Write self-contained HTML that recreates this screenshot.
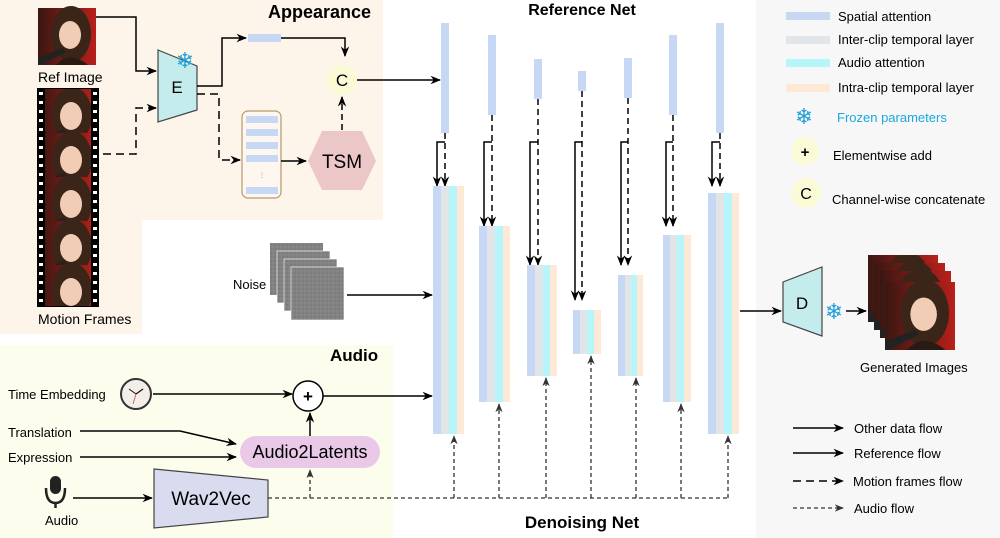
<!DOCTYPE html>
<html><head><meta charset="utf-8"><style>
html,body{margin:0;padding:0;background:#fff}
svg{display:block;font-family:"Liberation Sans",Arial,sans-serif}
</style></head><body>
<svg width="1000" height="538" viewBox="0 0 1000 538" xmlns="http://www.w3.org/2000/svg">
<defs>
<marker id="ah" viewBox="0 0 10 10" refX="9" refY="5" markerWidth="7" markerHeight="7" orient="auto-start-reverse"><path d="M0,1 L10,5 L0,9 L3,5 z" fill="#000"/></marker>
<marker id="ag" viewBox="0 0 10 10" refX="9" refY="5" markerWidth="7" markerHeight="7" orient="auto"><path d="M0,1 L10,5 L0,9 L3,5 z" fill="#333"/></marker>
<linearGradient id="bgred" x1="0" y1="0" x2="1" y2="0"><stop offset="0" stop-color="#3a1712"/><stop offset="1" stop-color="#b8201a"/></linearGradient>
<g id="face">
<rect x="0" y="0" width="58" height="57" fill="url(#bgred)"/>
<ellipse cx="33" cy="26" rx="20" ry="28" fill="#3b2418"/>
<ellipse cx="32" cy="27" rx="11" ry="14" fill="#f2cdb5"/>
<path d="M0,50 L25,40 L28,44 L3,57 L0,57z" fill="#222"/>
<path d="M18,57 Q32,42 50,57z" fill="#2a1a14"/>
</g>
<pattern id="noise" width="4" height="4" patternUnits="userSpaceOnUse"><rect width="4" height="4" fill="#828282"/><rect x="1" y="2" width="1" height="1" fill="#8e8e8e"/><rect x="3" y="0" width="1" height="1" fill="#767676"/><rect x="0" y="3" width="1" height="1" fill="#8a8a8a"/><rect x="2" y="1" width="1" height="1" fill="#787878"/></pattern>
</defs>

<!-- backgrounds -->
<rect x="0" y="0" width="383" height="220" fill="#fdf4ea"/>
<rect x="0" y="220" width="142" height="114" fill="#fdf4ea"/>
<rect x="0" y="345" width="393" height="193" fill="#fdfdee"/>
<rect x="756" y="0" width="244" height="538" fill="#f7f7f7"/>

<!-- titles -->
<text x="268" y="18" font-size="18" font-weight="bold">Appearance</text>
<text x="582" y="15" font-size="16" font-weight="bold" text-anchor="middle">Reference Net</text>
<text x="330" y="361" font-size="17" font-weight="bold">Audio</text>
<text x="582" y="528" font-size="17" font-weight="bold" text-anchor="middle">Denoising Net</text>

<!-- ref image -->
<use href="#face" x="38" y="8"/>
<text x="38" y="82" font-size="14">Ref Image</text>
<!-- film strip -->
<rect x="37" y="88" width="62" height="219" fill="#000"/>
<svg x="45" y="89" width="46" height="217" viewBox="0 0 46 217" overflow="hidden">
<use href="#face" x="-6" y="0"/><use href="#face" x="-6" y="44"/><use href="#face" x="-6" y="88"/><use href="#face" x="-6" y="132"/><use href="#face" x="-6" y="176"/>
</svg>
<g fill="#fff">
<rect x="39" y="92" width="4" height="3"/><rect x="39" y="101" width="4" height="3"/><rect x="39" y="110" width="4" height="3"/><rect x="39" y="119" width="4" height="3"/><rect x="39" y="128" width="4" height="3"/><rect x="39" y="137" width="4" height="3"/><rect x="39" y="146" width="4" height="3"/><rect x="39" y="155" width="4" height="3"/><rect x="39" y="164" width="4" height="3"/><rect x="39" y="173" width="4" height="3"/><rect x="39" y="182" width="4" height="3"/><rect x="39" y="191" width="4" height="3"/><rect x="39" y="200" width="4" height="3"/><rect x="39" y="209" width="4" height="3"/><rect x="39" y="218" width="4" height="3"/><rect x="39" y="227" width="4" height="3"/><rect x="39" y="236" width="4" height="3"/><rect x="39" y="245" width="4" height="3"/><rect x="39" y="254" width="4" height="3"/><rect x="39" y="263" width="4" height="3"/><rect x="39" y="272" width="4" height="3"/><rect x="39" y="281" width="4" height="3"/><rect x="39" y="290" width="4" height="3"/><rect x="39" y="299" width="4" height="3"/>
<rect x="93" y="92" width="4" height="3"/><rect x="93" y="101" width="4" height="3"/><rect x="93" y="110" width="4" height="3"/><rect x="93" y="119" width="4" height="3"/><rect x="93" y="128" width="4" height="3"/><rect x="93" y="137" width="4" height="3"/><rect x="93" y="146" width="4" height="3"/><rect x="93" y="155" width="4" height="3"/><rect x="93" y="164" width="4" height="3"/><rect x="93" y="173" width="4" height="3"/><rect x="93" y="182" width="4" height="3"/><rect x="93" y="191" width="4" height="3"/><rect x="93" y="200" width="4" height="3"/><rect x="93" y="209" width="4" height="3"/><rect x="93" y="218" width="4" height="3"/><rect x="93" y="227" width="4" height="3"/><rect x="93" y="236" width="4" height="3"/><rect x="93" y="245" width="4" height="3"/><rect x="93" y="254" width="4" height="3"/><rect x="93" y="263" width="4" height="3"/><rect x="93" y="272" width="4" height="3"/><rect x="93" y="281" width="4" height="3"/><rect x="93" y="290" width="4" height="3"/><rect x="93" y="299" width="4" height="3"/>
</g>
<text x="38" y="324" font-size="14">Motion Frames</text>

<!-- E encoder -->
<polygon points="158,50 197,66 197,110 158,122" fill="#c5ecec" stroke="#444" stroke-width="1.2"/>
<text x="177" y="93" font-size="17" text-anchor="middle">E</text>
<text x="185" y="68" font-size="22" fill="#1e9fd8" text-anchor="middle" font-family="DejaVu Sans, sans-serif">❄</text>
<polyline points="96,17 136,17 136,71 156,71" fill="none" stroke="#000" stroke-width="1.5" marker-end="url(#ah)"/>
<polyline points="103,154 136,154 136,108 156,108" fill="none" stroke="#000" stroke-width="1.5" stroke-dasharray="8,5" marker-end="url(#ah)"/>
<polyline points="197,86 222,86 222,38 246,38" fill="none" stroke="#000" stroke-width="1.5" marker-end="url(#ah)"/>
<rect x="248" y="34" width="33" height="8" fill="#c7d8f5"/>
<polyline points="281,38 345,38 345,56" fill="none" stroke="#000" stroke-width="1.5" marker-end="url(#ah)"/>
<circle cx="342" cy="80" r="15" fill="#fafad6"/>
<text x="342" y="86" font-size="17" text-anchor="middle">C</text>
<polyline points="197,94 219,94 219,160 240,160" fill="none" stroke="#000" stroke-width="1.5" stroke-dasharray="8,5" marker-end="url(#ah)"/>
<rect x="242" y="111" width="39" height="87" rx="6" fill="#fdf7ef" stroke="#b49a6e" stroke-width="1.2"/>
<g fill="#c7d8f5"><rect x="246" y="116" width="32" height="7"/><rect x="246" y="129" width="32" height="7"/><rect x="246" y="142" width="32" height="7"/><rect x="246" y="155" width="32" height="7"/><rect x="246" y="187" width="32" height="7"/></g>
<text x="262" y="177" font-size="6" text-anchor="middle" fill="#888">⋮</text>
<line x1="281" y1="161" x2="306" y2="161" stroke="#000" stroke-width="1.5" marker-end="url(#ah)"/>
<polygon points="308,161 322,131 362,131 376,161 362,190 322,190" fill="#ecc7c8"/>
<text x="342" y="168" font-size="19" text-anchor="middle">TSM</text>
<line x1="342" y1="130" x2="342" y2="97" stroke="#000" stroke-width="1.5" stroke-dasharray="6,4" marker-end="url(#ah)"/>
<line x1="357" y1="80" x2="440" y2="80" stroke="#000" stroke-width="1.5" marker-end="url(#ah)"/>

<!-- reference net bars -->
<g fill="#c7d8f5">
<rect x="441" y="23" width="8" height="110"/><rect x="488" y="35" width="8" height="80"/><rect x="534" y="59" width="8" height="40"/><rect x="578" y="71" width="8" height="20"/><rect x="624" y="58" width="8" height="40"/><rect x="669" y="35" width="8" height="80"/><rect x="716" y="23" width="8" height="110"/>
</g>
<g fill="none" stroke="#000" stroke-width="1.5">
<line x1="445" y1="133" x2="445" y2="186" stroke-dasharray="6,4" marker-end="url(#ah)"/><polyline points="445,142 437,142 437,186" marker-end="url(#ah)"/>
<line x1="492" y1="115" x2="492" y2="226" stroke-dasharray="6,4" marker-end="url(#ah)"/><polyline points="492,142 484,142 484,226" marker-end="url(#ah)"/>
<line x1="538" y1="99" x2="538" y2="265" stroke-dasharray="6,4" marker-end="url(#ah)"/><polyline points="538,142 530,142 530,265" marker-end="url(#ah)"/>
<line x1="582" y1="91" x2="582" y2="300" stroke-dasharray="6,4" marker-end="url(#ah)"/><polyline points="582,142 575,142 575,300" marker-end="url(#ah)"/>
<line x1="628" y1="98" x2="628" y2="265" stroke-dasharray="6,4" marker-end="url(#ah)"/><polyline points="628,142 621,142 621,265" marker-end="url(#ah)"/>
<line x1="673" y1="115" x2="673" y2="226" stroke-dasharray="6,4" marker-end="url(#ah)"/><polyline points="673,142 666,142 666,226" marker-end="url(#ah)"/>
<line x1="720" y1="133" x2="720" y2="186" stroke-dasharray="6,4" marker-end="url(#ah)"/><polyline points="720,142 712,142 712,186" marker-end="url(#ah)"/>
</g>
<!-- denoise blocks -->
<g>
<rect x="433" y="186" width="8" height="248" fill="#c7d8f5"/><rect x="441" y="186" width="8" height="248" fill="#e1e5e8"/><rect x="449" y="186" width="8" height="248" fill="#b6f6fa"/><rect x="457" y="186" width="7" height="248" fill="#fde9d6"/>
<rect x="479" y="226" width="8" height="176" fill="#c7d8f5"/><rect x="487" y="226" width="8" height="176" fill="#e1e5e8"/><rect x="495" y="226" width="8" height="176" fill="#b6f6fa"/><rect x="503" y="226" width="7" height="176" fill="#fde9d6"/>
<rect x="527" y="265" width="8" height="111" fill="#c7d8f5"/><rect x="535" y="265" width="8" height="111" fill="#e1e5e8"/><rect x="543" y="265" width="7" height="111" fill="#b6f6fa"/><rect x="550" y="265" width="7" height="111" fill="#fde9d6"/>
<rect x="573" y="310" width="7" height="44" fill="#c7d8f5"/><rect x="580" y="310" width="7" height="44" fill="#e1e5e8"/><rect x="587" y="310" width="7" height="44" fill="#b6f6fa"/><rect x="594" y="310" width="7" height="44" fill="#fde9d6"/>
<rect x="618" y="275" width="7" height="101" fill="#c7d8f5"/><rect x="625" y="275" width="6" height="101" fill="#e1e5e8"/><rect x="631" y="275" width="6" height="101" fill="#b6f6fa"/><rect x="637" y="275" width="6" height="101" fill="#fde9d6"/>
<rect x="663" y="235" width="7" height="167" fill="#c7d8f5"/><rect x="670" y="235" width="7" height="167" fill="#e1e5e8"/><rect x="677" y="235" width="7" height="167" fill="#b6f6fa"/><rect x="684" y="235" width="7" height="167" fill="#fde9d6"/>
<rect x="708" y="193" width="8" height="241" fill="#c7d8f5"/><rect x="716" y="193" width="8" height="241" fill="#e1e5e8"/><rect x="724" y="193" width="8" height="241" fill="#b6f6fa"/><rect x="732" y="193" width="7" height="241" fill="#fde9d6"/>
</g>

<!-- noise -->
<rect x="270" y="243" width="53" height="52" fill="url(#noise)"/>
<rect x="277" y="251" width="53" height="52" fill="url(#noise)" stroke="#fff" stroke-width="0.6"/>
<rect x="284" y="259" width="53" height="52" fill="url(#noise)" stroke="#fff" stroke-width="0.6"/>
<rect x="291" y="267" width="53" height="53" fill="url(#noise)" stroke="#fff" stroke-width="0.6"/>
<text x="233" y="289" font-size="13">Noise</text>
<line x1="347" y1="295" x2="432" y2="295" stroke="#000" stroke-width="1.5" marker-end="url(#ah)"/>

<!-- audio section -->
<text x="8" y="399" font-size="13">Time Embedding</text>
<circle cx="136" cy="394" r="15" fill="#f3eeea" stroke="#333" stroke-width="2"/>
<line x1="136" y1="394" x2="143" y2="389" stroke="#111" stroke-width="1.2"/><line x1="136" y1="394" x2="129" y2="389" stroke="#111" stroke-width="1"/><line x1="136" y1="394" x2="133" y2="404" stroke="#c44" stroke-width="0.8"/>
<line x1="153" y1="394" x2="292" y2="394" stroke="#000" stroke-width="1.5" marker-end="url(#ah)"/>
<circle cx="308" cy="396" r="15" fill="#fff" stroke="#000" stroke-width="1.5"/>
<text x="308" y="402" font-size="17" font-weight="bold" text-anchor="middle">+</text>
<polyline points="323,396 432,396" fill="none" stroke="#000" stroke-width="1.5" marker-end="url(#ah)"/>
<text x="8" y="437" font-size="13">Translation</text>
<polyline points="80,431 180,431 236,444" fill="none" stroke="#000" stroke-width="1.5" marker-end="url(#ah)"/>
<text x="8" y="462" font-size="13">Expression</text>
<line x1="80" y1="457" x2="236" y2="457" stroke="#000" stroke-width="1.5" marker-end="url(#ah)"/>
<rect x="240" y="436" width="140" height="32" rx="16" fill="#e9c8e8"/>
<text x="310" y="458" font-size="18" text-anchor="middle">Audio2Latents</text>
<line x1="310" y1="436" x2="310" y2="413" stroke="#000" stroke-width="1.5" marker-end="url(#ah)"/>
<rect x="50" y="476" width="11" height="18" rx="5.5" fill="#222"/>
<path d="M46,488 Q46,503 55.5,503 Q65,503 65,488" fill="none" stroke="#222" stroke-width="2.5"/>
<line x1="55.5" y1="503" x2="55.5" y2="508" stroke="#222" stroke-width="2.5"/>
<text x="45" y="525" font-size="13">Audio</text>
<line x1="73" y1="498" x2="152" y2="498" stroke="#000" stroke-width="1.5" marker-end="url(#ah)"/>
<polygon points="154,469 268,480 268,517 154,528" fill="#d8dcee" stroke="#444" stroke-width="1.2"/>
<text x="211" y="505" font-size="19" text-anchor="middle">Wav2Vec</text>
<g fill="none" stroke="#333" stroke-width="1.3" stroke-dasharray="4,3">
<polyline points="268,498 728,498"/>
<line x1="310" y1="498" x2="310" y2="470" marker-end="url(#ag)"/>
<line x1="454" y1="498" x2="454" y2="436" marker-end="url(#ag)"/>
<line x1="499" y1="498" x2="499" y2="404" marker-end="url(#ag)"/>
<line x1="546" y1="498" x2="546" y2="378" marker-end="url(#ag)"/>
<line x1="591" y1="498" x2="591" y2="356" marker-end="url(#ag)"/>
<line x1="636" y1="498" x2="636" y2="378" marker-end="url(#ag)"/>
<line x1="681" y1="498" x2="681" y2="404" marker-end="url(#ag)"/>
<line x1="728" y1="498" x2="728" y2="436" marker-end="url(#ag)"/>
</g>

<!-- output -->
<line x1="740" y1="311" x2="781" y2="311" stroke="#000" stroke-width="1.5" marker-end="url(#ah)"/>
<polygon points="783,282 822,267 822,336 783,322" fill="#c5ecec" stroke="#444" stroke-width="1.2"/>
<text x="802" y="309" font-size="17" text-anchor="middle">D</text>
<text x="834" y="319" font-size="22" fill="#1e9fd8" text-anchor="middle" font-family="DejaVu Sans, sans-serif">❄</text>
<line x1="846" y1="311" x2="866" y2="311" stroke="#000" stroke-width="1.5" marker-end="url(#ah)"/>
<svg x="868" y="255" width="70" height="67" viewBox="0 0 58 57" preserveAspectRatio="none"><use href="#face"/></svg>
<svg x="874" y="263" width="71" height="67" viewBox="0 0 58 57" preserveAspectRatio="none"><use href="#face"/></svg>
<svg x="880" y="271" width="71" height="67" viewBox="0 0 58 57" preserveAspectRatio="none"><use href="#face"/></svg>
<svg x="885" y="282" width="70" height="68" viewBox="0 0 58 57" preserveAspectRatio="none"><use href="#face"/></svg>
<text x="860" y="372" font-size="13">Generated Images</text>

<!-- legend -->
<rect x="786" y="12" width="44" height="8" fill="#c7d8f5"/><text x="838" y="21" font-size="13">Spatial attention</text>
<rect x="786" y="36" width="44" height="8" fill="#e1e5e8"/><text x="838" y="44" font-size="13">Inter-clip temporal layer</text>
<rect x="786" y="59" width="44" height="8" fill="#b6f6fa"/><text x="838" y="67" font-size="13">Audio attention</text>
<rect x="786" y="84" width="44" height="8" fill="#fde9d6"/><text x="838" y="92" font-size="13">Intra-clip temporal layer</text>
<text x="804" y="124" font-size="22" fill="#1e9fd8" text-anchor="middle" font-family="DejaVu Sans, sans-serif">❄</text><text x="837" y="122" font-size="13" fill="#1aa7e0">Frozen parameters</text>
<circle cx="805" cy="151" r="14" fill="#fafad6"/><text x="805" y="157" font-size="15" font-weight="bold" text-anchor="middle">+</text><text x="833" y="160" font-size="13">Elementwise add</text>
<circle cx="806" cy="193" r="15" fill="#fafad6"/><text x="806" y="199" font-size="16" text-anchor="middle">C</text><text x="832" y="204" font-size="13">Channel-wise concatenate</text>
<line x1="793" y1="428" x2="843" y2="428" stroke="#000" stroke-width="1.5" marker-end="url(#ah)"/><text x="854" y="433" font-size="13">Other data flow</text>
<line x1="793" y1="453" x2="843" y2="453" stroke="#000" stroke-width="1.5" marker-end="url(#ah)"/><text x="854" y="458" font-size="13">Reference flow</text>
<line x1="793" y1="481" x2="843" y2="481" stroke="#000" stroke-width="1.5" stroke-dasharray="8,5" marker-end="url(#ah)"/><text x="853" y="486" font-size="13">Motion frames flow</text>
<line x1="793" y1="508" x2="843" y2="508" stroke="#333" stroke-width="1.3" stroke-dasharray="4,3" marker-end="url(#ag)"/><text x="854" y="513" font-size="13">Audio flow</text>
</svg>
</body></html>
